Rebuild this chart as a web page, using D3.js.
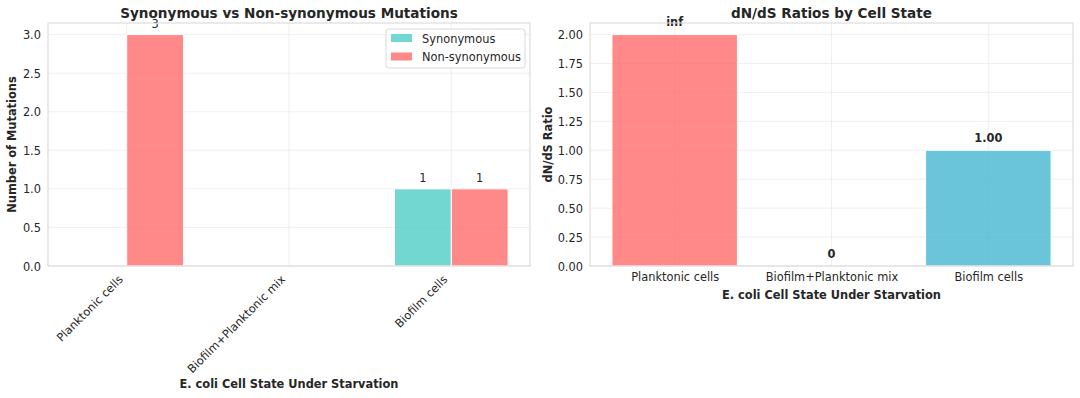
<!DOCTYPE html>
<html>
<head>
<meta charset="utf-8">
<style>
    body { margin: 0; background: #fff; }
    svg text { font-family: 'DejaVu Sans', sans-serif; }
    .tick text, .cat-label { font-family: 'DejaVu Sans', sans-serif; font-size: 11.4px; fill: #262626; }
    .domain { display: none; }
    .tick line { display: none; }
    .grid line { stroke: #ebebeb; stroke-width: 0.8px; }
    .title { font-size: 13.6px; font-weight: bold; fill: #262626; }
    .axis-label { font-size: 11.4px; font-weight: bold; fill: #262626; }
    .value { font-size: 11.4px; fill: #262626; }
    .value.bold { font-weight: bold; }
    .legend text { font-size: 11.4px; fill: #262626; }
</style>
</head>
<body>
<svg width="1080" height="398"></svg>
<script src="https://cdn.jsdelivr.net/npm/d3@7"></script>
<script>
    let categories = ["Planktonic cells", "Biofilm+Planktonic mix", "Biofilm cells"]
    let synonymous = [0, 0, 1]
    let nonSynonymous = [3, 0, 1]
    let ratioValues = [2.0, 0, 1.0]
    let ratioLabels = ["inf", "0", "1.00"]
    let mutationTicks = [0, 0.5, 1.0, 1.5, 2.0, 2.5, 3.0]
    let ratioTicks = [0, 0.25, 0.5, 0.75, 1.0, 1.25, 1.5, 1.75, 2.0]

    let svg = d3.select("svg")
    let plotTop = 23, plotBottom = 266

    // ---------- left panel ----------
    let left = { x0: 48, x1: 530 }
    let barW = 0.35

    let x1 = d3.scaleLinear().domain([-0.485, 2.485]).range([left.x0, left.x1])
    let y1 = d3.scaleLinear().domain([0, 3.15]).range([plotBottom, plotTop])

    let g1 = svg.append("g")

    g1.append("g").attr("class", "grid")
        .selectAll("line").data(mutationTicks).join("line")
        .attr("x1", left.x0).attr("x2", left.x1)
        .attr("y1", d => y1(d)).attr("y2", d => y1(d))
    g1.append("g").attr("class", "grid")
        .selectAll("line").data(d3.range(categories.length)).join("line")
        .attr("x1", d => x1(d)).attr("x2", d => x1(d))
        .attr("y1", plotTop).attr("y2", plotBottom)

    let bars1 = []
    categories.forEach((c, i) => {
        bars1.push({ i: i, v: synonymous[i], off: -barW, color: "#4ECDC4" })
        bars1.push({ i: i, v: nonSynonymous[i], off: 0, color: "#FF6B6B" })
    })

    g1.selectAll(".bar").data(bars1.filter(d => d.v > 0)).join("rect")
        .attr("class", "bar")
        .attr("x", d => x1(d.i + d.off))
        .attr("width", d => x1(barW) - x1(0))
        .attr("y", d => y1(d.v))
        .attr("height", d => y1(0) - y1(d.v))
        .attr("fill", d => d.color)
        .attr("fill-opacity", 0.8)
        .attr("stroke", "#fff")
        .attr("stroke-width", 1)

    g1.selectAll(".value").data(bars1.filter(d => d.v > 0)).join("text")
        .attr("class", "value")
        .attr("x", d => x1(d.i + d.off + barW / 2))
        .attr("y", d => y1(d.v) - 7)
        .attr("text-anchor", "middle")
        .text(d => d.v)

    g1.append("rect")
        .attr("x", left.x0).attr("y", plotTop)
        .attr("width", left.x1 - left.x0).attr("height", plotBottom - plotTop)
        .attr("fill", "none").attr("stroke", "#d9d9d9").attr("stroke-width", 1.1)

    g1.append("g")
        .attr("transform", `translate(${left.x0},0)`)
        .call(d3.axisLeft(y1).tickValues(mutationTicks).tickFormat(d3.format(".1f")).tickSize(0).tickPadding(7))
        .selectAll("text").attr("dy", "0.35em")

    g1.append("g").selectAll("text").data(categories).join("text")
        .attr("class", "cat-label")
        .attr("transform", (d, i) => `translate(${x1(i) - 3},${plotBottom + 14}) rotate(-45)`)
        .attr("text-anchor", "end")
        .text(d => d)

    g1.append("text").attr("class", "title")
        .attr("x", (left.x0 + left.x1) / 2).attr("y", 18)
        .attr("text-anchor", "middle")
        .text("Synonymous vs Non-synonymous Mutations")

    g1.append("text").attr("class", "axis-label")
        .attr("x", (left.x0 + left.x1) / 2).attr("y", 388)
        .attr("text-anchor", "middle")
        .text("E. coli Cell State Under Starvation")

    g1.append("text").attr("class", "axis-label")
        .attr("transform", `translate(16,${(plotTop + plotBottom) / 2}) rotate(-90)`)
        .attr("text-anchor", "middle")
        .text("Number of Mutations")

    // legend
    let legend = g1.append("g").attr("class", "legend").attr("transform", "translate(386,29)")
    legend.append("rect")
        .attr("width", 139).attr("height", 39).attr("rx", 2.5)
        .attr("fill", "#fff").attr("fill-opacity", 0.8)
        .attr("stroke", "#d9d9d9").attr("stroke-width", 1)
    let legendItems = [
        { name: "Synonymous", color: "#4ECDC4" },
        { name: "Non-synonymous", color: "#FF6B6B" }
    ]
    legendItems.forEach((d, k) => {
        legend.append("rect")
            .attr("x", 5).attr("y", 5 + k * 18.5)
            .attr("width", 21).attr("height", 8)
            .attr("fill", d.color).attr("fill-opacity", 0.8)
        legend.append("text")
            .attr("x", 36).attr("y", 13.5 + k * 18.5)
            .text(d.name)
    })

    // ---------- right panel ----------
    let right = { x0: 590, x1: 1073 }
    let ratioColors = ["#FF6B6B", "#96CEB4", "#45B7D1"]

    let x2 = d3.scaleLinear().domain([-0.54, 2.54]).range([right.x0, right.x1])
    let y2 = d3.scaleLinear().domain([0, 2.1]).range([plotBottom, plotTop])

    let g2 = svg.append("g")

    g2.append("g").attr("class", "grid")
        .selectAll("line").data(ratioTicks).join("line")
        .attr("x1", right.x0).attr("x2", right.x1)
        .attr("y1", d => y2(d)).attr("y2", d => y2(d))
    g2.append("g").attr("class", "grid")
        .selectAll("line").data(d3.range(categories.length)).join("line")
        .attr("x1", d => x2(d)).attr("x2", d => x2(d))
        .attr("y1", plotTop).attr("y2", plotBottom)

    g2.selectAll(".bar").data(ratioValues.map((v, i) => ({ i: i, v: v })).filter(d => d.v > 0)).join("rect")
        .attr("class", "bar")
        .attr("x", d => x2(d.i - 0.4))
        .attr("width", x2(0.8) - x2(0))
        .attr("y", d => y2(d.v))
        .attr("height", d => y2(0) - y2(d.v))
        .attr("fill", d => ratioColors[d.i])
        .attr("fill-opacity", 0.8)
        .attr("stroke", "#fff")
        .attr("stroke-width", 1)

    g2.selectAll(".value").data(ratioValues).join("text")
        .attr("class", "value bold")
        .attr("x", (d, i) => x2(i))
        .attr("y", d => y2(d) - 8.5)
        .attr("text-anchor", "middle")
        .text((d, i) => ratioLabels[i])

    g2.append("rect")
        .attr("x", right.x0).attr("y", plotTop)
        .attr("width", right.x1 - right.x0).attr("height", plotBottom - plotTop)
        .attr("fill", "none").attr("stroke", "#d9d9d9").attr("stroke-width", 1.1)

    g2.append("g")
        .attr("transform", `translate(${right.x0},0)`)
        .call(d3.axisLeft(y2).tickValues(ratioTicks).tickFormat(d3.format(".2f")).tickSize(0).tickPadding(7))
        .selectAll("text").attr("dy", "0.35em")

    g2.append("g")
        .attr("transform", `translate(0,${plotBottom})`)
        .call(d3.axisBottom(x2).tickValues([0, 1, 2]).tickFormat((d, i) => categories[i]).tickSize(0).tickPadding(6))
        .selectAll("text").attr("dy", "0.75em")

    g2.append("text").attr("class", "title")
        .attr("x", (right.x0 + right.x1) / 2).attr("y", 18)
        .attr("text-anchor", "middle")
        .text("dN/dS Ratios by Cell State")

    g2.append("text").attr("class", "axis-label")
        .attr("x", (right.x0 + right.x1) / 2).attr("y", 299)
        .attr("text-anchor", "middle")
        .text("E. coli Cell State Under Starvation")

    g2.append("text").attr("class", "axis-label")
        .attr("transform", `translate(552,${(plotTop + plotBottom) / 2}) rotate(-90)`)
        .attr("text-anchor", "middle")
        .text("dN/dS Ratio")
</script>
</body>
</html>
